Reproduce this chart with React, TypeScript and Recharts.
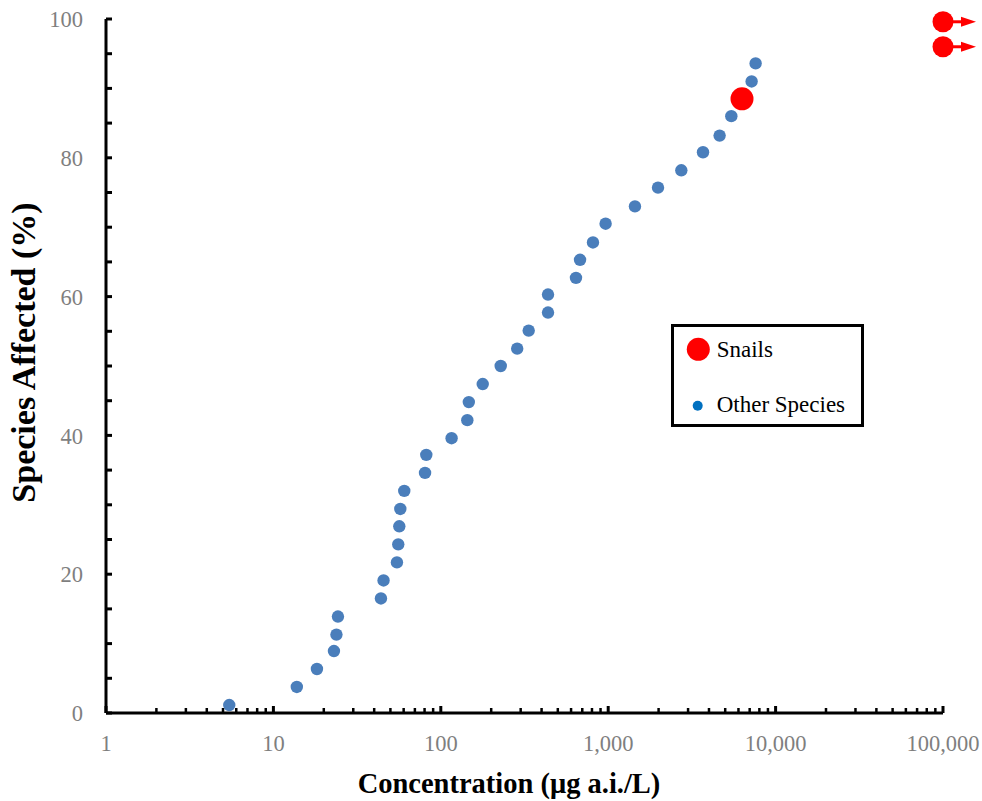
import { ScatterChart, Scatter, XAxis, YAxis, Legend } from 'recharts';

// other species: concentration (µg a.i./L) and % species affected
const otherConc = [
  5.45, 13.8, 18.2, 23.0, 23.8, 24.3, 43.9, 45.5, 54.7, 55.7, 56.5, 57.3, 60.5,
  80.5, 81.9, 116, 144, 147, 178, 228, 286, 335, 437, 437, 642, 679, 811, 965,
  1445, 1984, 2734, 3684, 4630, 5438, 7190, 7597,
];
const otherAffected = [
  1.15, 3.75, 6.34, 8.93, 11.3, 13.9, 16.5, 19.1, 21.7, 24.3, 26.9, 29.4, 32.0,
  34.6, 37.2, 39.6, 42.2, 44.8, 47.4, 50.0, 52.5, 55.1, 57.7, 60.3, 62.7, 65.3,
  67.8, 70.5, 73.0, 75.7, 78.2, 80.8, 83.2, 86.0, 91.0, 93.6,
];

// snails: measured value, and the ">" values plotted at the axis maximum
const snailConc = [6300];
const snailAffected = [88.5];
const snailGtConc = [100000, 100000];
const snailGtAffected = [96.0, 99.6];

const xMajorTicks = [1, 10, 100, 1000, 10000, 100000];
const xMinorSteps = [2, 3, 4, 5, 6, 7, 8, 9];
const yTicks = [0, 5, 10, 15, 20, 25, 30, 35, 40, 45, 50, 55, 60, 65, 70, 75, 80, 85, 90, 95, 100];
const yLabelled = [0, 20, 40, 60, 80, 100];

const xTicks = xMajorTicks.flatMap((m, i) =>
  i < xMajorTicks.length - 1 ? [m, ...xMinorSteps.map((s) => s * m)] : [m]
);

const toPoints = (xs: number[], ys: number[]) => xs.map((x, i) => ({ x, y: ys[i] }));
const otherData = toPoints(otherConc, otherAffected);
const snailData = toPoints(snailConc, snailAffected);
const snailGtData = toPoints(snailGtConc, snailGtAffected);

const SERIF = '"Liberation Serif", "Times New Roman", serif';
const TICK_GREY = '#7f7f7f';
const BLUE = '#4a7ebb';
const RED = '#ff0000';

const XTick = (props: any) => {
  const { x, y, payload } = props;
  const major = xMajorTicks.includes(payload.value);
  return (
    <g>
      <line x1={x} x2={x} y1={y} y2={y - (major ? 7 : 5)} stroke="#000" strokeWidth={major ? 3 : 2.5} />
      {major && (
        <text x={x} y={y + 38} textAnchor="middle" fill={TICK_GREY} fontSize={22.5} fontFamily={SERIF}>
          {payload.value.toLocaleString('en-US')}
        </text>
      )}
    </g>
  );
};

const YTick = (props: any) => {
  const { x, y, payload } = props;
  return (
    <g>
      <line x1={x} x2={x + 6} y1={y} y2={y} stroke="#000" strokeWidth={3} />
      {yLabelled.includes(payload.value) && (
        <text x={x - 23} y={y} dy="0.36em" textAnchor="end" fill={TICK_GREY} fontSize={22.5} fontFamily={SERIF}>
          {payload.value}
        </text>
      )}
    </g>
  );
};

const BlueDot = (p: any) => <circle cx={p.cx} cy={p.cy} r={6.2} fill={BLUE} />;
const SnailDot = (p: any) => <circle cx={p.cx} cy={p.cy} r={11.5} fill={RED} />;
const SnailArrow = (p: any) => (
  <g>
    <line x1={p.cx} x2={p.cx + 19} y1={p.cy} y2={p.cy} stroke={RED} strokeWidth={3} />
    <polygon points={`${p.cx + 18},${p.cy - 5} ${p.cx + 33},${p.cy} ${p.cx + 18},${p.cy + 5}`} fill={RED} />
    <circle cx={p.cx} cy={p.cy} r={10.5} fill={RED} />
  </g>
);

const LegendBox = () => (
  <svg width={193} height={103} style={{ display: 'block' }}>
    <rect x={1.5} y={1.5} width={190} height={100} fill="#fff" stroke="#000" strokeWidth={3} />
    <circle cx={27.3} cy={25.3} r={11.5} fill={RED} />
    <text x={45.7} y={32.7} fontSize={23} fontFamily={SERIF} fill="#000">Snails</text>
    <circle cx={26.7} cy={81.7} r={5} fill="#0070c0" />
    <text x={45.7} y={87.7} fontSize={23} fontFamily={SERIF} fill="#000">Other Species</text>
  </svg>
);

export default function App() {
  return (
    <div style={{ position: 'absolute', left: 0, top: 0, width: 982, height: 801, background: '#fff' }}>
      <ScatterChart width={982} height={801} margin={{ top: 19, right: 39, bottom: 28, left: 46 }}>
        <XAxis
          type="number"
          dataKey="x"
          scale="log"
          domain={[1, 100000]}
          ticks={xTicks}
          interval={0}
          height={60}
          tickSize={0}
          tickMargin={0}
          tickLine={false}
          tick={<XTick />}
          axisLine={{ stroke: '#000', strokeWidth: 3 }}
          label={{
            content: () => (
              <text x={509} y={793} textAnchor="middle" fontSize={28.5} fontWeight="bold" fontFamily={SERIF} fill="#000">
                Concentration (μg a.i./L)
              </text>
            ),
          }}
        />
        <YAxis
          type="number"
          dataKey="y"
          domain={[0, 100]}
          ticks={yTicks}
          interval={0}
          width={60}
          tickSize={0}
          tickMargin={0}
          tickLine={false}
          tick={<YTick />}
          axisLine={{ stroke: '#000', strokeWidth: 3 }}
          label={{
            content: () => (
              <text
                x={35}
                y={352.5}
                transform="rotate(-90, 35, 352.5)"
                textAnchor="middle"
                fontSize={34}
                fontWeight="bold"
                fontFamily={SERIF}
                fill="#000"
              >
                Species Affected (%)
              </text>
            ),
          }}
        />
        <Legend
          layout="horizontal"
          verticalAlign="middle"
          align="center"
          content={() => <LegendBox />}
          wrapperStyle={{ left: 671, top: 324, width: 193, height: 103 }}
        />
        <Scatter name="Other Species" data={otherData} shape={BlueDot} isAnimationActive={false} />
        <Scatter name="Snails" data={snailData} shape={SnailDot} isAnimationActive={false} />
        <Scatter name="Snails >" data={snailGtData} shape={SnailArrow} isAnimationActive={false} />
      </ScatterChart>
    </div>
  );
}
